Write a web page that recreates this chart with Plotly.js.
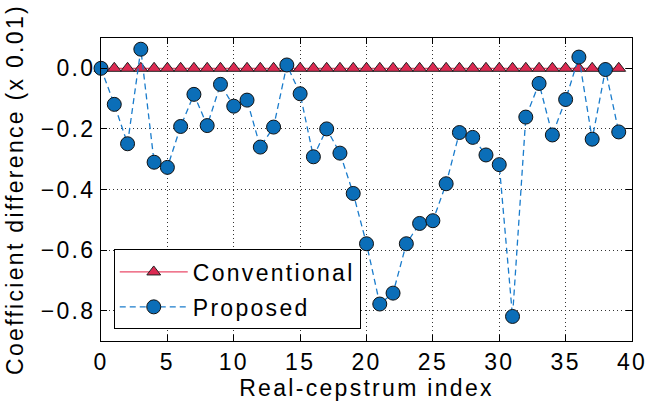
<!DOCTYPE html>
<html>
<head>
<meta charset="utf-8">
<script src="https://cdn.plot.ly/plotly-3.0.1.min.js"></script>
<style>
html,body{margin:0;padding:0;background:#fff;}
text{letter-spacing:2.3px !important;}
</style>
</head>
<body>
<div id="chart" style="width:648px;height:402px;"></div>
<script>
var cepstrumIndex = [0,1,2,3,4,5,6,7,8,9,10,11,12,13,14,15,16,17,18,19,20,21,22,23,24,25,26,27,28,29,30,31,32,33,34,35,36,37,38,39];
var conventional = [0,0,0,0,0,0,0,0,0,0,0,0,0,0,0,0,0,0,0,0,0,0,0,0,0,0,0,0,0,0,0,0,0,0,0,0,0,0,0,0];
var proposed = [0.0,-0.119,-0.249,0.063,-0.31,-0.327,-0.192,-0.086,-0.189,-0.053,
                -0.125,-0.105,-0.26,-0.194,0.011,-0.084,-0.292,-0.2,-0.28,-0.413,
                -0.579,-0.778,-0.742,-0.579,-0.512,-0.503,-0.381,-0.212,-0.228,-0.286,
                -0.318,-0.819,-0.161,-0.05,-0.22,-0.103,0.037,-0.234,-0.004,-0.21];
var xTicks = [0,5,10,15,20,25,30,35,40];
var yTickVals = [-0.8,-0.6,-0.4,-0.2,0.0];
var yTickText = ["\u22120.8","\u22120.6","\u22120.4","\u22120.2","0.0"];
var seriesNames = ["Conventional","Proposed"];

var font = "Liberation Sans, Arial, sans-serif";
var fs = 23;

var traces = [
  {
    x: cepstrumIndex, y: conventional, name: seriesNames[0],
    type: "scatter", mode: "lines+markers", cliponaxis: false,
    legendgroup: "a",
    line: {color: "#ea4a68", width: 1.3},
    marker: {symbol: "triangle-up", size: 12, color: "#dc2a52", line: {color: "#222", width: 1}}
  },
  {
    x: cepstrumIndex, y: proposed, name: seriesNames[1],
    type: "scatter", mode: "lines+markers", cliponaxis: false,
    legendgroup: "b",
    line: {color: "#1a7ccc", width: 1.3, dash: "6px,4px"},
    marker: {symbol: "circle", size: 14, color: "#0b6eb8", line: {color: "#111", width: 1}}
  }
];

var axisCommon = {
  showline: true, linecolor: "#000", linewidth: 1, mirror: "allticks",
  ticks: "inside", ticklen: 6, tickcolor: "#000", tickwidth: 1,
  showgrid: true, gridcolor: "#333", gridwidth: 1, griddash: "1px,3px",
  zeroline: false,
  tickfont: {family: font, size: fs, color: "#000"}
};

var layout = {
  width: 648, height: 402,
  margin: {l: 101, r: 16, t: 38, b: 61},
  paper_bgcolor: "#fff", plot_bgcolor: "#fff",
  font: {family: font, size: fs, color: "#000"},
  xaxis: Object.assign({}, axisCommon, {
    range: [0, 40], tickmode: "array", tickvals: xTicks,
    title: {text: "Real-cepstrum index", font: {family: font, size: fs, color: "#000"}, standoff: 2}
  }),
  yaxis: Object.assign({}, axisCommon, {
    range: [-0.9, 0.1], tickmode: "array", tickvals: yTickVals, ticktext: yTickText,
    title: {text: "Coefficient difference (x 0.01)", font: {family: font, size: fs, color: "#000"}, standoff: 10}
  }),
  showlegend: true,
  legend: {
    x: 0.024, y: 0.302, xanchor: "left", yanchor: "top",
    bgcolor: "#fff", bordercolor: "#000", borderwidth: 1,
    font: {family: font, size: fs, color: "#000"},
    traceorder: "grouped", tracegroupgap: 2, itemwidth: 68
  }
};

Plotly.newPlot("chart", traces, layout, {displayModeBar: false, staticPlot: true});
</script>
</body>
</html>
